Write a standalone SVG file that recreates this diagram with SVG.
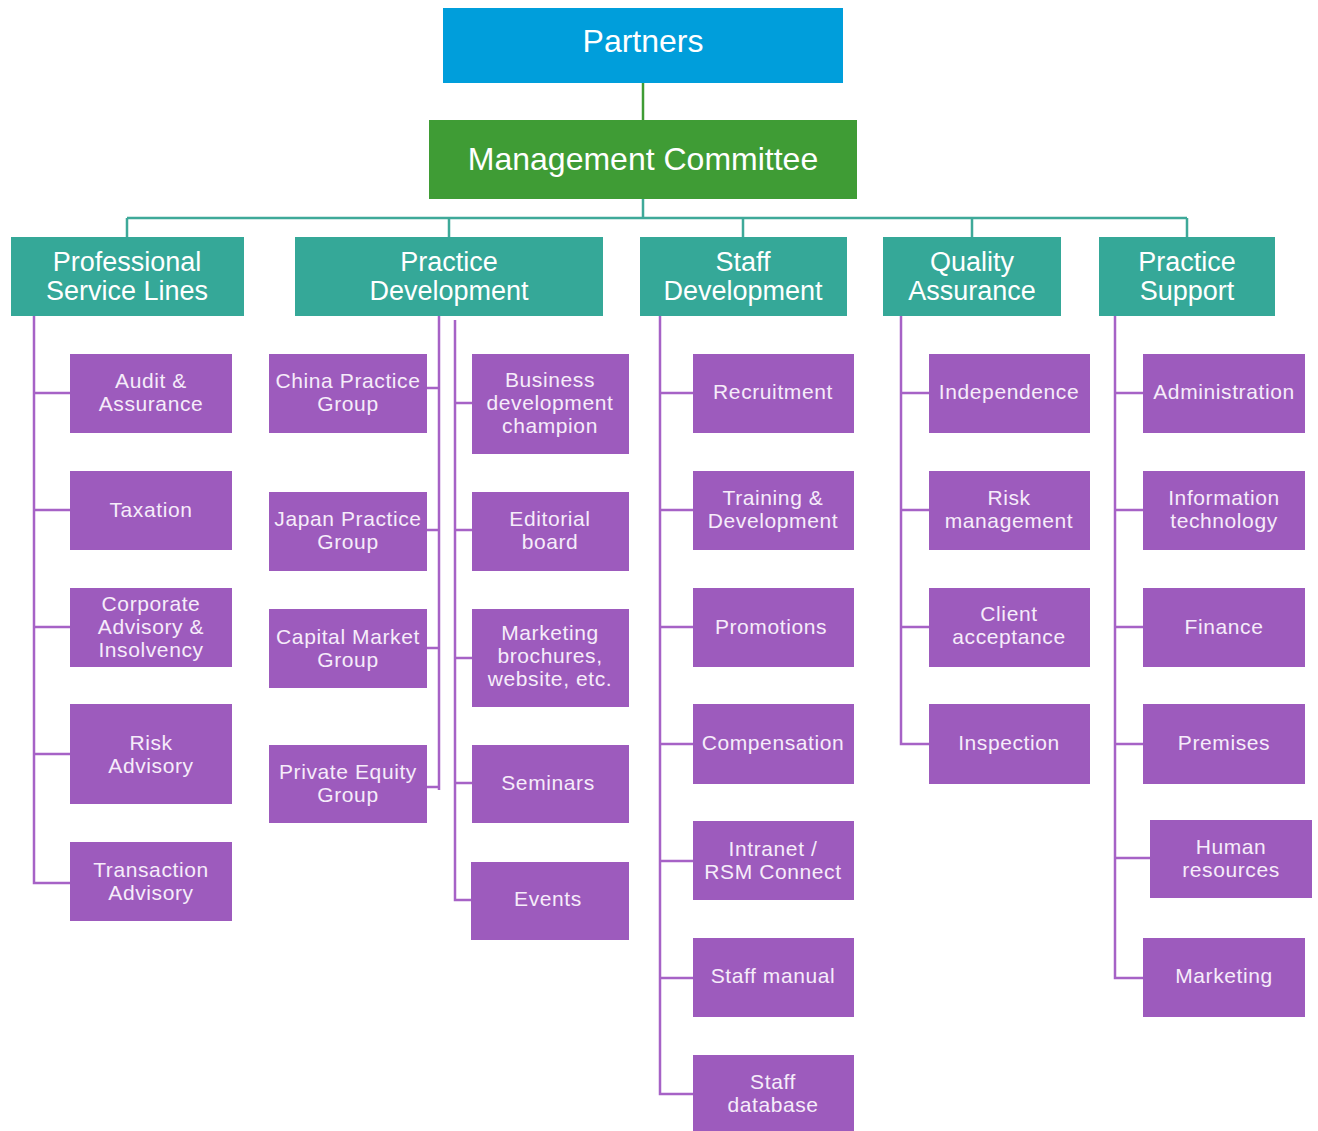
<svg xmlns="http://www.w3.org/2000/svg" width="1318" height="1131" viewBox="0 0 1318 1131">
<style>
.t{font-family:"Liberation Sans",Arial,sans-serif;fill:#fff;text-anchor:middle}
.big{font-size:32px}
.l2{font-size:27px}
.p{font-size:21px;letter-spacing:0.6px;fill:#f6ecfa}
.pb{fill:#9d5bbd}
.tb{fill:#35a898}
.pl{stroke:#a662c6;stroke-width:2.5;fill:none}
.tl{stroke:#3ea999;stroke-width:2.5;fill:none}
</style>
<rect width="1318" height="1131" fill="#fff"/>
<g id="connectors">
<path d="M643 83V120" stroke="#3f9c35" stroke-width="2.5" fill="none"/>
<path class="tl" d="M643 199V218M127 218H1187M127 218V237M449 218V237M743 218V237M972 218V237M1187 218V237"/>
<path class="pl" d="M34 316V883H70M34 393H70M34 510H70M34 627H70M34 754H70"/>
<path class="pl" d="M439 316V790M427 388H439M427 530H439M427 648H439M427 787H439"/>
<path class="pl" d="M455 320V900H472M455 403H472M455 530H472M455 658H472M455 783H472"/>
<path class="pl" d="M660 316V1094H693M660 393H693M660 510H693M660 627H693M660 744H693M660 861H693M660 978H693"/>
<path class="pl" d="M901 316V744H929M901 393H929M901 510H929M901 627H929"/>
<path class="pl" d="M1115 316V978H1143M1115 393H1143M1115 510H1143M1115 627H1143M1115 744H1143M1115 858H1150"/>
</g>
<g id="partners"><rect x="443" y="8" width="400" height="75" fill="#009edb"/><text class="t big" x="643" y="52">Partners</text></g>
<g id="management-committee"><rect x="429" y="120" width="428" height="79" fill="#3f9c35"/><text class="t big" x="643" y="170" font-size="33">Management Committee</text></g>

<g id="professional-service-lines"><rect class="tb" x="11" y="237" width="233" height="79"/><text class="t l2" x="127" y="271">Professional</text><text class="t l2" x="127" y="300">Service Lines</text></g>
<g id="practice-development"><rect class="tb" x="295" y="237" width="308" height="79"/><text class="t l2" x="449" y="271">Practice</text><text class="t l2" x="449" y="300">Development</text></g>
<g id="staff-development"><rect class="tb" x="640" y="237" width="207" height="79"/><text class="t l2" x="743" y="271">Staff</text><text class="t l2" x="743" y="300">Development</text></g>
<g id="quality-assurance"><rect class="tb" x="883" y="237" width="178" height="79"/><text class="t l2" x="972" y="271">Quality</text><text class="t l2" x="972" y="300">Assurance</text></g>
<g id="practice-support"><rect class="tb" x="1099" y="237" width="176" height="79"/><text class="t l2" x="1187" y="271">Practice</text><text class="t l2" x="1187" y="300">Support</text></g>

<g id="audit-assurance"><rect class="pb" x="70" y="354" width="162" height="79"/><text class="t p" x="151" y="388">Audit &amp;</text><text class="t p" x="151" y="411">Assurance</text></g>
<g id="taxation"><rect class="pb" x="70" y="471" width="162" height="79"/><text class="t p" x="151" y="517">Taxation</text></g>
<g id="corporate-advisory"><rect class="pb" x="70" y="588" width="162" height="79"/><text class="t p" x="151" y="611">Corporate</text><text class="t p" x="151" y="634">Advisory &amp;</text><text class="t p" x="151" y="657">Insolvency</text></g>
<g id="risk-advisory"><rect class="pb" x="70" y="704" width="162" height="100"/><text class="t p" x="151" y="750">Risk</text><text class="t p" x="151" y="773">Advisory</text></g>
<g id="transaction-advisory"><rect class="pb" x="70" y="842" width="162" height="79"/><text class="t p" x="151" y="877">Transaction</text><text class="t p" x="151" y="900">Advisory</text></g>

<g id="china-practice-group"><rect class="pb" x="269" y="354" width="158" height="79"/><text class="t p" x="348" y="388">China Practice</text><text class="t p" x="348" y="411">Group</text></g>
<g id="japan-practice-group"><rect class="pb" x="269" y="492" width="158" height="79"/><text class="t p" x="348" y="526">Japan Practice</text><text class="t p" x="348" y="549">Group</text></g>
<g id="capital-market-group"><rect class="pb" x="269" y="609" width="158" height="79"/><text class="t p" x="348" y="644">Capital Market</text><text class="t p" x="348" y="667">Group</text></g>
<g id="private-equity-group"><rect class="pb" x="269" y="745" width="158" height="78"/><text class="t p" x="348" y="779">Private Equity</text><text class="t p" x="348" y="802">Group</text></g>

<g id="business-development-champion"><rect class="pb" x="472" y="354" width="157" height="100"/><text class="t p" x="550" y="387">Business</text><text class="t p" x="550" y="410">development</text><text class="t p" x="550" y="433">champion</text></g>
<g id="editorial-board"><rect class="pb" x="472" y="492" width="157" height="79"/><text class="t p" x="550" y="526">Editorial</text><text class="t p" x="550" y="549">board</text></g>
<g id="marketing-brochures"><rect class="pb" x="472" y="609" width="157" height="98"/><text class="t p" x="550" y="640">Marketing</text><text class="t p" x="550" y="663">brochures,</text><text class="t p" x="550" y="686">website, etc.</text></g>
<g id="seminars"><rect class="pb" x="472" y="745" width="157" height="78"/><text class="t p" x="548" y="790">Seminars</text></g>
<g id="events"><rect class="pb" x="471" y="862" width="158" height="78"/><text class="t p" x="548" y="906">Events</text></g>

<g id="recruitment"><rect class="pb" x="693" y="354" width="161" height="79"/><text class="t p" x="773" y="399">Recruitment</text></g>
<g id="training-development"><rect class="pb" x="693" y="471" width="161" height="79"/><text class="t p" x="773" y="505">Training &amp;</text><text class="t p" x="773" y="528">Development</text></g>
<g id="promotions"><rect class="pb" x="693" y="588" width="161" height="79"/><text class="t p" x="771" y="634">Promotions</text></g>
<g id="compensation"><rect class="pb" x="693" y="704" width="161" height="80"/><text class="t p" x="773" y="750">Compensation</text></g>
<g id="intranet"><rect class="pb" x="693" y="821" width="161" height="79"/><text class="t p" x="773" y="856">Intranet /</text><text class="t p" x="773" y="879">RSM Connect</text></g>
<g id="staff-manual"><rect class="pb" x="693" y="938" width="161" height="79"/><text class="t p" x="773" y="983">Staff manual</text></g>
<g id="staff-database"><rect class="pb" x="693" y="1055" width="161" height="76"/><text class="t p" x="773" y="1089">Staff</text><text class="t p" x="773" y="1112">database</text></g>

<g id="independence"><rect class="pb" x="929" y="354" width="161" height="79"/><text class="t p" x="1009" y="399">Independence</text></g>
<g id="risk-management"><rect class="pb" x="929" y="471" width="161" height="79"/><text class="t p" x="1009" y="505">Risk</text><text class="t p" x="1009" y="528">management</text></g>
<g id="client-acceptance"><rect class="pb" x="929" y="588" width="161" height="79"/><text class="t p" x="1009" y="621">Client</text><text class="t p" x="1009" y="644">acceptance</text></g>
<g id="inspection"><rect class="pb" x="929" y="704" width="161" height="80"/><text class="t p" x="1009" y="750">Inspection</text></g>

<g id="administration"><rect class="pb" x="1143" y="354" width="162" height="79"/><text class="t p" x="1224" y="399">Administration</text></g>
<g id="information-technology"><rect class="pb" x="1143" y="471" width="162" height="79"/><text class="t p" x="1224" y="505">Information</text><text class="t p" x="1224" y="528">technology</text></g>
<g id="finance"><rect class="pb" x="1143" y="588" width="162" height="79"/><text class="t p" x="1224" y="634">Finance</text></g>
<g id="premises"><rect class="pb" x="1143" y="704" width="162" height="80"/><text class="t p" x="1224" y="750">Premises</text></g>
<g id="human-resources"><rect class="pb" x="1150" y="820" width="162" height="78"/><text class="t p" x="1231" y="854">Human</text><text class="t p" x="1231" y="877">resources</text></g>
<g id="marketing"><rect class="pb" x="1143" y="938" width="162" height="79"/><text class="t p" x="1224" y="983">Marketing</text></g>
</svg>
